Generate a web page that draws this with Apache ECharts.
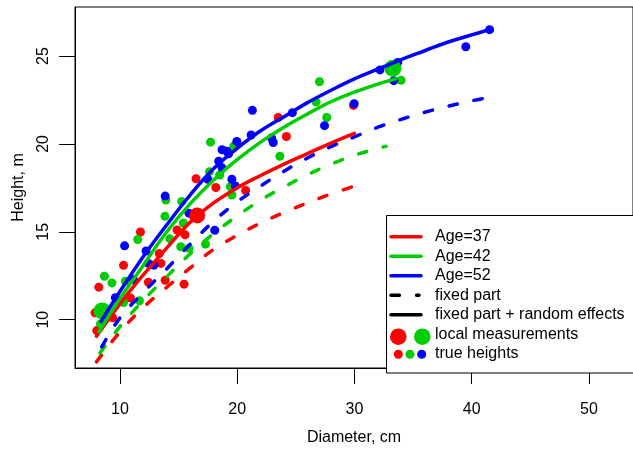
<!DOCTYPE html>
<html>
<head>
<meta charset="utf-8">
<script src="https://cdn.jsdelivr.net/npm/echarts@6/dist/echarts.min.js"></script>
<style>
    html, body { margin: 0; padding: 0; background: #fff; }
    #chart { width: 633px; height: 451px; }
</style>
</head>
<body>
<div id="chart"></div>
<script>
// true heights, [diameter cm, height m]
const redTrue = [[7.87, 10.39], [8.2, 11.85], [8.03, 9.38], [9.38, 10.11], [10.31, 13.09], [10.9, 11.23],
    [11.75, 14.99], [12.43, 12.13], [13.36, 13.76], [13.5, 13.2], [13.86, 12.24], [14.87, 15.1],
    [15.55, 14.83], [15.47, 12.02], [16.49, 18.02], [18.18, 17.52], [20.72, 17.35], [23.5, 21.5],
    [24.2, 20.42], [29.92, 22.19]];
const greenTrue = [[8.68, 12.47], [9.32, 12.09], [10.46, 12.19], [10.31, 10.97], [11.67, 11.07], [8.34, 9.76],
    [11.52, 14.56], [13.84, 15.88], [13.92, 16.81], [14.26, 14.6], [15.19, 14.15], [15.89, 14.06],
    [17.3, 14.3], [15.27, 16.73], [15.41, 15.5], [17.64, 18.42], [18.51, 18.23], [19.42, 17.56],
    [19.55, 17.09], [17.73, 20.1], [19.7, 19.86], [23.64, 19.3], [27.02, 23.54], [26.74, 22.38],
    [27.64, 21.5], [33.98, 23.62]];
const blueTrue = [[9.61, 11.25], [11.16, 12.28], [10.4, 14.2], [12.23, 13.91], [12.43, 13.2], [12.9, 13.1],
    [13.86, 17.03], [15.89, 16.06], [18.09, 15.09], [17.5, 17.99], [19.55, 17.99], [19.84, 17.61],
    [18.43, 19.02], [18.71, 18.64], [18.71, 19.67], [19.13, 19.58], [19.27, 19.44], [19.97, 20.14],
    [21.19, 20.51], [22.93, 20.33], [23.08, 20.08], [21.3, 21.91], [24.71, 21.78], [27.45, 21.04],
    [29.98, 22.29], [32.18, 24.21], [33.36, 23.6], [33.7, 24.63], [39.5, 25.53], [41.53, 26.5]];

// local measurements
const redLocal = [[16.59, 15.93]];
const greenLocal = [[8.48, 10.5], [33.28, 24.31]];

// fixed part (dashed)
const redFixed = [[8, 7.6], [10, 9.3], [12, 10.7], [14, 11.85], [16, 12.95], [18, 14.0], [20, 14.8],
    [22, 15.5], [24, 16.1], [26, 16.65], [28, 17.15], [30, 17.6]];
const greenFixed = [[8.3, 8.1], [10, 9.6], [12, 11.1], [14, 12.45], [16, 13.75], [18, 14.9], [20, 15.9],
    [22, 16.8], [24, 17.55], [26, 18.25], [28, 18.85], [30, 19.35], [32, 19.75], [32.7, 19.86]];
const blueFixed = [[8.45, 8.45], [10, 10.1], [12, 11.55], [14, 12.9], [16, 14.3], [18, 15.6], [20, 16.7],
    [22, 17.6], [24, 18.45], [26, 19.2], [28, 19.85], [30, 20.4], [32, 20.95], [34, 21.4], [36, 21.8],
    [38, 22.15], [40, 22.45], [41.5, 22.65]];

// fixed part + random effects (solid)
const redFull = [[8, 9.05], [10, 10.9], [12, 12.55], [14, 14.08], [16, 15.55], [18, 16.65], [20, 17.5],
    [22, 18.2], [24, 18.85], [26, 19.45], [28, 20.05], [30, 20.6]];
const greenFull = [[8.2, 9.3], [10, 11.2], [12, 13.1], [14, 15.0], [16, 16.6], [18, 17.95], [20, 19.1],
    [22, 20.1], [24, 20.95], [26, 21.7], [28, 22.4], [30, 22.95], [32, 23.4], [33.5, 23.7]];
const blueFull = [[8.4, 9.9], [10, 11.6], [12, 13.6], [14, 15.4], [16, 17.1], [18, 18.6], [20, 19.75],
    [22, 20.75], [24, 21.55], [26, 22.35], [28, 23.05], [30, 23.7], [32, 24.25], [34, 24.8], [36, 25.3],
    [38, 25.8], [40, 26.2], [41.5, 26.5]];

const xTicks = [10, 20, 30, 40, 50];
const yTicks = [10, 15, 20, 25];

const RED = '#ff0000', GREEN = '#00cd00', BLUE = '#0000ff';
const FONT = '"Liberation Sans", Arial, sans-serif';

const chart = echarts.init(document.getElementById('chart'));

function pts(data, color, size) {
    return { type: 'scatter', data: data, symbol: 'circle', symbolSize: size,
        itemStyle: { color: color, opacity: 1 }, silent: true };
}
function curve(data, color, dashed) {
    return { type: 'line', data: data, smooth: 0.4, showSymbol: false, silent: true,
        lineStyle: { color: color, width: 3.5, type: dashed ? [8.5, 17] : 'solid', cap: 'round' } };
}

// legend drawn R-style in the lower right corner
const lx = 386.5, ly = 215.5, rowY = [236.8, 256.3, 275.8, 295.3, 314.8, 334.5, 354];
const legendLabels = ['Age=37', 'Age=42', 'Age=52', 'fixed part', 'fixed part + random effects',
    'local measurements', 'true heights'];
const legend = [{ type: 'rect', shape: { x: lx, y: ly, width: 300, height: 157.5 },
    style: { fill: '#fff', stroke: '#000', lineWidth: 1 }, z: 100 }];
[RED, GREEN, BLUE, '#000', '#000'].forEach((c, i) => {
    legend.push({ type: 'line', shape: { x1: 391, y1: rowY[i], x2: i === 3 ? 419 : 421, y2: rowY[i] },
        style: { stroke: c, lineWidth: 3.5, lineDash: i === 3 ? [8.5, 17] : null, lineCap: 'round' }, z: 101 });
});
legend.push({ type: 'circle', shape: { cx: 398.3, cy: 336.7, r: 8.3 }, style: { fill: RED }, z: 101 });
legend.push({ type: 'circle', shape: { cx: 422.3, cy: 336.7, r: 8.3 }, style: { fill: GREEN }, z: 101 });
[RED, GREEN, BLUE].forEach((c, i) => {
    legend.push({ type: 'circle', shape: { cx: 398.3 + i * 11.7, cy: 354.3, r: 4.5 }, style: { fill: c }, z: 101 });
});
legendLabels.forEach((t, i) => {
    legend.push({ type: 'text', x: 435, y: rowY[i], z: 101,
        style: { text: t, fill: '#000', font: '16px ' + FONT, textVerticalAlign: 'middle' } });
});

chart.setOption({
    animation: false,
    textStyle: { fontFamily: FONT },
    grid: { left: 75, top: 7, right: -5, bottom: 78, show: true, borderColor: '#000', borderWidth: 1 },
    xAxis: {
        type: 'value', min: 6.17, max: 53.76,
        name: 'Diameter, cm', nameLocation: 'middle', nameGap: 62,
        nameTextStyle: { fontSize: 16, color: '#000' },
        splitLine: { show: false },
        axisLine: { lineStyle: { color: '#000', width: 1 } },
        axisTick: { length: 16, lineStyle: { color: '#000' }, customValues: xTicks },
        axisLabel: { fontSize: 16, color: '#000', margin: 34, customValues: xTicks }
    },
    yAxis: {
        type: 'value', min: 7.25, max: 27.79,
        name: 'Height, m', nameLocation: 'middle', nameGap: 48, nameRotate: 90,
        nameTextStyle: { fontSize: 16, color: '#000' },
        splitLine: { show: false },
        axisLine: { show: true, lineStyle: { color: '#000', width: 1 } },
        axisTick: { show: true, length: 16, lineStyle: { color: '#000' }, customValues: yTicks },
        axisLabel: { fontSize: 16, color: '#000', margin: 23, rotate: 90, customValues: yTicks }
    },
    series: [
        pts(redTrue, RED, 9),
        pts(greenTrue, GREEN, 9),
        pts(blueTrue, BLUE, 9),
        curve(redFixed, RED, true),
        curve(greenFixed, GREEN, true),
        curve(blueFixed, BLUE, true),
        curve(redFull, RED, false),
        curve(greenFull, GREEN, false),
        curve(blueFull, BLUE, false),
        pts(redLocal, RED, 16),
        pts(greenLocal, GREEN, 17)
    ],
    graphic: legend
});
</script>
</body>
</html>
